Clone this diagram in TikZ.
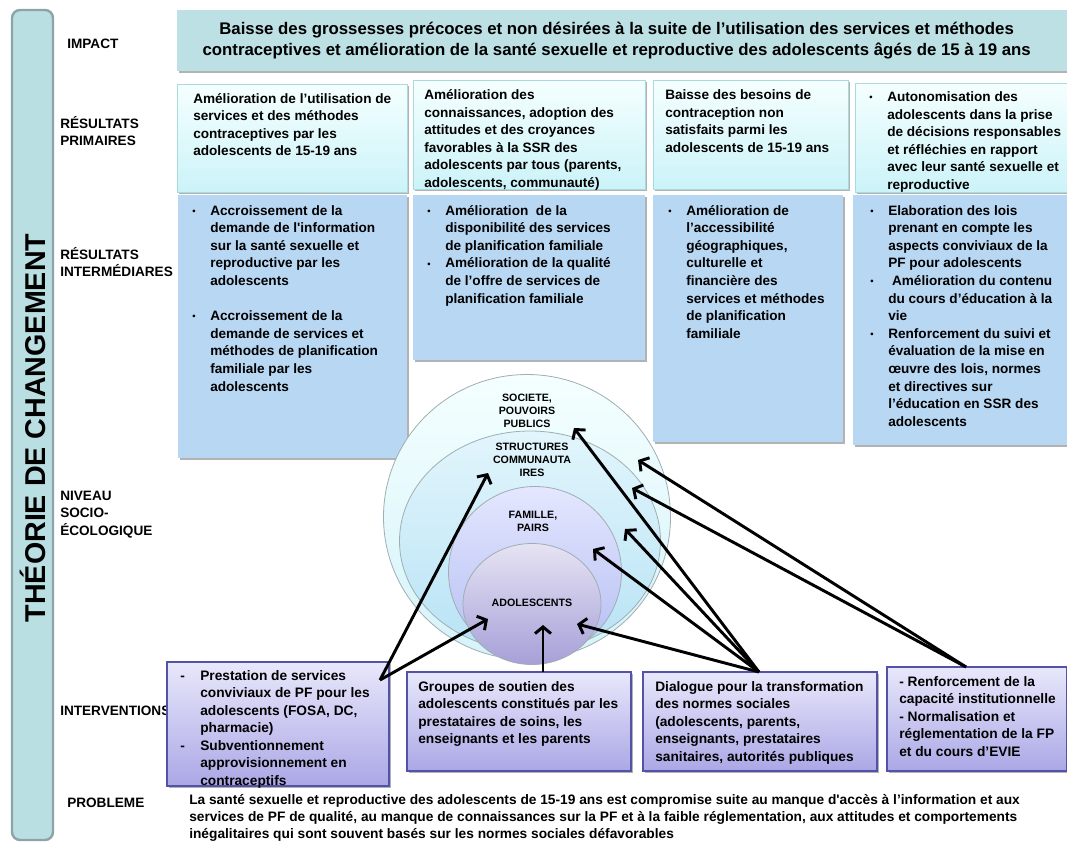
\documentclass[tikz,border=0pt]{standalone}
\usepackage{fontspec}
\setmainfont{Liberation Sans}
\usetikzlibrary{arrows.meta,shapes.geometric,shadows,fit}

\definecolor{barfill}{HTML}{B9DFE3}
\definecolor{barline}{HTML}{8CA4A7}
\definecolor{impfill}{HTML}{BCE0E3}
\definecolor{ptop}{HTML}{F5FFFF}
\definecolor{pbot}{HTML}{CBF3F8}
\definecolor{pline}{HTML}{A9DADF}
\definecolor{ifill}{HTML}{B8D7F3}
\definecolor{vtop}{HTML}{E8E8FB}
\definecolor{vbot}{HTML}{ABA7E6}
\definecolor{vline}{HTML}{5252A6}
\definecolor{caa}{HTML}{F4FFFF}\definecolor{cab}{HTML}{D5F3F9}
\definecolor{cba}{HTML}{E2F5FC}\definecolor{cbb}{HTML}{B8E3F5}
\definecolor{cca}{HTML}{E4E7FE}\definecolor{ccb}{HTML}{B3BDF3}
\definecolor{cda}{HTML}{E6E3F3}\definecolor{cdb}{HTML}{A6A0D8}
\definecolor{cline}{HTML}{9FAEB2}

\newcommand\txtl[1]{\begin{tabular}[t]{@{}l@{}}#1\end{tabular}}
\newcommand\txtb[1]{\begin{tabular}[t]{@{}p{13.5pt}@{}l@{}}#1\end{tabular}}
\newcommand\sq{\textquotesingle}
\newcommand\bul{\raisebox{0.5pt}{\fontsize{7}{7}\selectfont •}}

\tikzset{
  sh/.style={drop shadow={shadow xshift=1.3pt,shadow yshift=-1.6pt,opacity=0.3,fill=black}},
  boxfit/.style={rectangle,inner sep=0pt,outer sep=0pt},
  impbox/.style={boxfit,fill=impfill,sh},
  pribox/.style={boxfit,top color=ptop,bottom color=pbot,draw=pline,line width=0.6pt,sh},
  intbox/.style={boxfit,fill=ifill,sh},
  ivbox/.style={boxfit,top color=vtop,bottom color=vbot,draw=vline,line width=0.8pt,sh},
  txt/.style={inner sep=0pt,anchor=base west,font=\fontsize{10.2}{13.2}\selectfont\bfseries},
  ivtxt/.style={inner sep=0pt,anchor=base west,font=\fontsize{10.3}{13.1}\selectfont\bfseries},
  rowlab/.style={inner sep=0pt,anchor=base west,font=\fontsize{10.2}{13.4}\selectfont\bfseries},
  circ/.style={ellipse,inner sep=0pt,draw=cline,line width=0.6pt},
  clab/.style={inner sep=0pt,align=center,font=\fontsize{8}{9.8}\selectfont\bfseries},
  arr/.style={line width=2.2pt,-{Straight Barb[length=5pt,width=12pt,line width=2.2pt]}},
}

\begin{document}
\begin{tikzpicture}[x=0.75pt,y=-0.75pt]
\useasboundingbox (0,0) rectangle (1067,843);

% left bar
\node[boxfit,fit={(12,10)(53,840)},fill=barfill,draw=barline,line width=1.8pt,rounded corners=6pt] (bar) {};
\node[rotate=90,inner sep=0pt,font=\fontsize{21.5}{24}\selectfont\bfseries] (title) at (33,428) {THÉORIE DE CHANGEMENT};

% row labels
\node[rowlab] (lImpact) at (67,48) {IMPACT};
\node[rowlab] (lPrim) at (60,128) {\txtl{RÉSULTATS\\PRIMAIRES}};
\node[rowlab] (lInter) at (60,259) {\txtl{RÉSULTATS\\INTERMÉDIARES}};
\node[rowlab] (lNiv) at (60,500) {\txtl{NIVEAU\\SOCIO-\\ÉCOLOGIQUE}};
\node[rowlab] (lInterv) at (60,715) {INTERVENTIONS};
\node[rowlab] (lProb) at (67,807) {PROBLEME};

% impact
\node[impbox,fit={(177,10)(1067,71)}] (imp) {};
\node[inner sep=0pt,align=center,font=\fontsize{12.6}{16}\selectfont\bfseries] (impt) at ([xshift=-4pt]imp.center)
 {Baisse des grossesses précoces et non désirées à la suite de l’utilisation des services et méthodes\\
  contraceptives et amélioration de la santé sexuelle et reproductive des adolescents âgés de 15 à 19 ans};

% primary results
\node[pribox,fit={(177,84)(407,192)}] (p1) {};
\node[pribox,fit={(413,80)(645,189)}] (p2) {};
\node[pribox,fit={(653,80)(848,189)}] (p3) {};
\node[pribox,fit={(855,83)(1067,192)}] (p4) {};

\node[txt] (tp1) at (193,103) {\txtl{Amélioration de l’utilisation de\\services et des méthodes\\contraceptives par les\\adolescents de 15-19 ans}};
\node[txt] (tp2) at (424,99.5) {\txtl{Amélioration des\\connaissances, adoption des\\attitudes et des croyances\\favorables à la SSR des\\adolescents par tous (parents,\\adolescents, communauté)}};
\node[txt] (tp3) at (665,99.5) {\txtl{Baisse des besoins de\\contraception non\\satisfaits parmi les\\adolescents de 15-19 ans}};
\node[txt] (tp4) at (869,101.5) {\txtb{\bul&Autonomisation des\\&adolescents dans la prise\\&de décisions responsables\\&et réfléchies en rapport\\&avec leur santé sexuelle et\\&reproductive}};

% intermediate results
\node[intbox,fit={(178,195)(407,458)}] (i1) {};
\node[intbox,fit={(413,195)(645,360)}] (i2) {};
\node[intbox,fit={(653,195)(843,442)}] (i3) {};
\node[intbox,fit={(853,195)(1067,445)}] (i4) {};

\node[txt] (ti1) at (192,215) {\txtb{\bul&Accroissement de la\\&demande de l\sq information\\&sur la santé sexuelle et\\&reproductive par les\\&adolescents\\&\\\bul&Accroissement de la\\&demande de services et\\&méthodes de planification\\&familiale par les\\&adolescents}};
\node[txt] (ti2) at (427,215) {\txtb{\bul&Amélioration\ \ de la\\&disponibilité des services\\&de planification familiale\\\bul&Amélioration de la qualité\\&de l’offre de services de\\&planification familiale}};
\node[txt] (ti3) at (668,215) {\txtb{\bul&Amélioration de\\&l’accessibilité\\&géographiques,\\&culturelle et\\&financière des\\&services et méthodes\\&de planification\\&familiale}};
\node[txt] (ti4) at (870,215) {\txtb{\bul&Elaboration des lois\\&prenant en compte les\\&aspects conviviaux de la\\&PF pour adolescents\\\bul&\ Amélioration du contenu\\&du cours d’éducation à la\\&vie\\\bul&Renforcement du suivi et\\&évaluation de la mise en\\&œuvre des lois, normes\\&et directives sur\\&l’éducation en SSR des\\&adolescents}};

% socio-ecological circles
\node[circ,top color=caa,bottom color=cab,minimum width=287*0.75pt,minimum height=285*0.75pt] (c1) at (527,517) {};
\node[circ,top color=cba,bottom color=cbb,minimum width=261*0.75pt,minimum height=220*0.75pt] (c2) at (530,541) {};
\node[circ,top color=cca,bottom color=ccb,minimum width=173*0.75pt,minimum height=171*0.75pt] (c3) at (535,572) {};
\node[circ,top color=cda,bottom color=cdb,minimum width=138*0.75pt,minimum height=121*0.75pt] (c4) at (532,604) {};

\node[clab] (lc1) at (527,411) {SOCIETE,\\POUVOIRS\\PUBLICS};
\node[clab] (lc2) at (532,460) {STRUCTURES\\COMMUNAUTA\\IRES};
\node[clab] (lc3) at (533,521) {FAMILLE,\\PAIRS};
\node[clab] (lc4) at (532,603) {ADOLESCENTS};

% interventions
\node[ivbox,fit={(167,662)(389,786)}] (v1) {};
\node[ivbox,fit={(407,672)(631,771)}] (v2) {};
\node[ivbox,fit={(643,672)(877,771)}] (v3) {};
\node[ivbox,fit={(887,667)(1067,771)}] (v4) {};

\node[ivtxt] (tv1) at (180,680.5) {\begin{tabular}[t]{@{}p{15pt}@{}l@{}}-&Prestation de services\\&conviviaux de PF pour les\\&adolescents (FOSA, DC,\\&pharmacie)\\-&Subventionnement\\&approvisionnement en\\&contraceptifs\end{tabular}};
\node[ivtxt] (tv2) at (418,691.5) {\txtl{Groupes de soutien des\\adolescents constitués par les\\prestataires de soins, les\\enseignants et les parents}};
\node[ivtxt] (tv3) at (655,691.5) {\txtl{Dialogue pour la transformation\\des normes sociales\\(adolescents, parents,\\enseignants, prestataires\\sanitaires, autorités publiques}};
\node[ivtxt] (tv4) at (899,686.5) {\txtl{- Renforcement de la\\capacité institutionnelle\\- Normalisation et\\réglementation de la FP\\et du cours d’EVIE}};

% problem
\node[inner sep=0pt,anchor=base west,font=\fontsize{10.3}{12.9}\selectfont\bfseries] (prob) at (189,804.5)
 {\txtl{La santé sexuelle et reproductive des adolescents de 15-19 ans est compromise suite au manque d\sq accès à l’information et aux\\
 services de PF de qualité, au manque de connaissances sur la PF et à la faible réglementation, aux attitudes et comportements\\
 inégalitaires qui sont souvent basés sur les normes sociales défavorables}};

% arrows
\coordinate (sv1) at (380,680);
\coordinate (sv2) at (543,672);
\coordinate (sv3) at (759,672);
\coordinate (sv4) at (966,667);
\coordinate (a1) at (488,473);
\coordinate (a2) at (488,619);
\coordinate (a3) at (543,625);
\coordinate (a4) at (574,428);
\coordinate (a5) at (625,529);
\coordinate (a6) at (593,549);
\coordinate (a7) at (577,624);
\coordinate (a8) at (638,460);
\coordinate (a9) at (632,488);
\draw[arr] (sv1) -- (a1);
\draw[arr] (sv1) -- (a2);
\draw[arr] (sv2) -- (a3);
\draw[arr] (sv3) -- (a4);
\draw[arr] (sv3) -- (a5);
\draw[arr] (sv3) -- (a6);
\draw[arr] (sv3) -- (a7);
\draw[arr] (sv4) -- (a8);
\draw[arr] (sv4) -- (a9);
\end{tikzpicture}
\end{document}
